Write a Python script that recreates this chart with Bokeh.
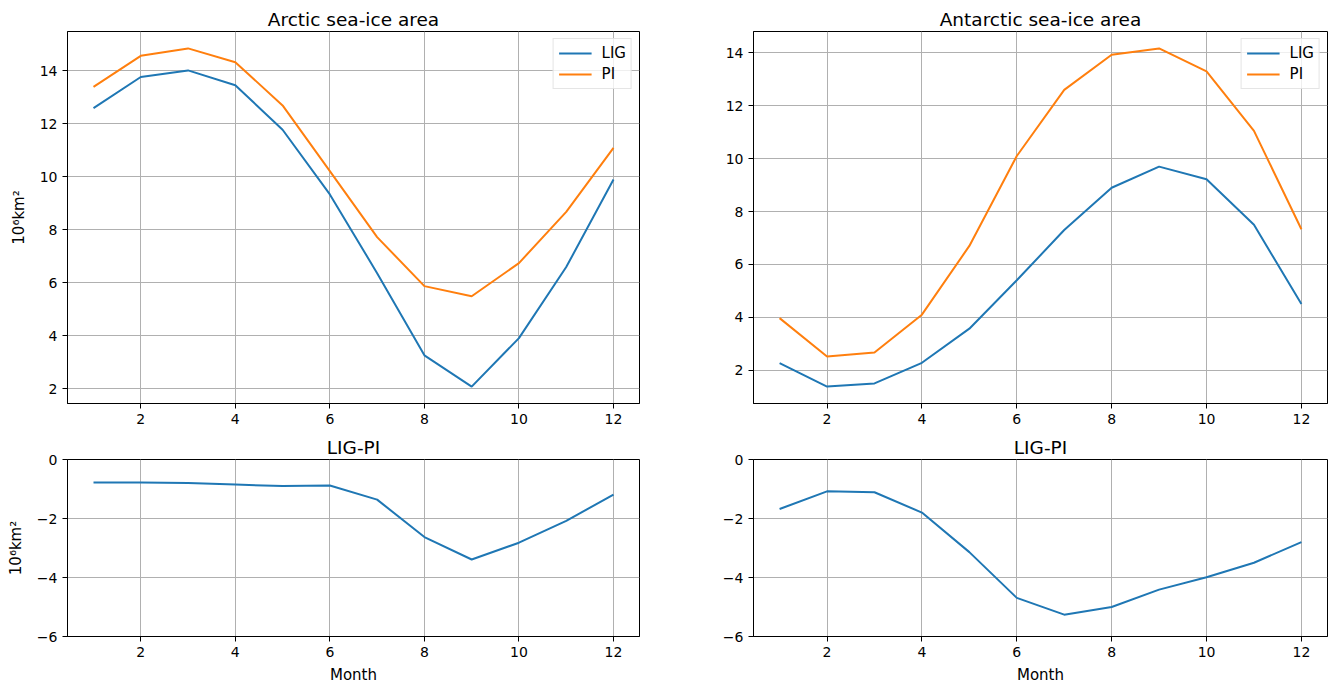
from bokeh.plotting import figure
from bokeh.layouts import column, row
from bokeh.models import FixedTicker, Range1d
from bokeh.embed import file_html
from bokeh.resources import INLINE

# ---- data ----
months = [1, 2, 3, 4, 5, 6, 7, 8, 9, 10, 11, 12]
arctic_lig = [12.6, 13.77, 14.02, 13.46, 11.78, 9.34, 6.37, 3.27, 2.09, 3.92, 6.6, 9.9]
arctic_pi = [13.4, 14.57, 14.85, 14.33, 12.7, 10.22, 7.73, 5.88, 5.5, 6.75, 8.68, 11.1]
arctic_diff = [-0.78, -0.78, -0.8, -0.85, -0.9, -0.88, -1.36, -2.63, -3.39, -2.82, -2.08, -1.19]
antarctic_lig = [2.27, 1.38, 1.5, 2.28, 3.57, 5.4, 7.3, 8.9, 9.7, 9.22, 7.5, 4.5]
antarctic_pi = [3.97, 2.52, 2.67, 4.1, 6.7, 10.1, 12.6, 13.93, 14.17, 13.3, 11.05, 7.33]
antarctic_diff = [-1.68, -1.08, -1.11, -1.8, -3.14, -4.69, -5.26, -5.0, -4.41, -3.99, -3.5, -2.8]

x_ticks = [2, 4, 6, 8, 10, 12]
top_y_ticks = [2, 4, 6, 8, 10, 12, 14]
diff_y_ticks = [-6, -4, -2, 0]
diff_y_labels = {-6: "\u22126", -4: "\u22124", -2: "\u22122", 0: "0"}
y_label = "10\u2076km\u00b2"
x_label = "Month"

BLUE = "#1f77b4"
ORANGE = "#ff7f0e"
FONT = "DejaVu Sans"


def auto_range(values, margin=0.05):
    lo, hi = min(values), max(values)
    pad = (hi - lo) * margin
    return Range1d(lo - pad, hi + pad)


def make_fig(title, y_range, fw, fh, left, right, top, bottom):
    p = figure(
        frame_width=fw, frame_height=fh,
        x_range=auto_range(months), y_range=y_range,
        output_backend="svg", toolbar_location=None,
        min_border_left=left, min_border_right=right,
        min_border_top=top, min_border_bottom=bottom,
        title=title,
    )
    p.title.align = "center"
    p.title.text_font = FONT
    p.title.text_font_size = "18.5px"
    p.title.text_font_style = "normal"
    p.title.text_color = "black"
    p.title.standoff = 4
    p.outline_line_color = "black"
    p.outline_line_width = 1
    p.outline_line_alpha = 1
    p.background_fill_color = "white"
    p.border_fill_color = "white"
    for ax in (p.xaxis, p.yaxis):
        ax.axis_line_color = "black"
        ax.major_tick_line_color = "black"
        ax.major_tick_out = 5
        ax.major_tick_in = 0
        ax.minor_tick_line_color = None
        ax.major_label_text_font = FONT
        ax.major_label_text_font_size = "14px"
        ax.major_label_text_color = "black"
        ax.major_label_standoff = 5
        ax.axis_label_text_font = FONT
        ax.axis_label_text_font_size = "15px"
        ax.axis_label_text_font_style = "normal"
        ax.axis_label_text_color = "black"
    p.xaxis.ticker = FixedTicker(ticks=x_ticks)
    p.grid.grid_line_color = "#b0b0b0"
    p.grid.grid_line_width = 1
    p.grid.grid_line_alpha = 1
    return p


def style_legend(p):
    lg = p.legend[0]
    lg.location = "top_right"
    lg.margin = 7
    lg.padding = 5
    lg.spacing = 3
    lg.glyph_width = 33
    lg.glyph_height = 18
    lg.label_height = 18
    lg.label_standoff = 10
    lg.label_text_font = FONT
    lg.label_text_font_size = "15px"
    lg.label_text_color = "black"
    lg.border_line_color = "#cccccc"
    lg.border_line_width = 1
    lg.background_fill_alpha = 0.8


# ---- top-left: Arctic ----
p1 = make_fig("Arctic sea-ice area", auto_range(arctic_lig + arctic_pi), 572, 372, 67, 41, 31, 27)
p1.line(months, arctic_lig, line_color=BLUE, line_width=2, legend_label="LIG")
p1.line(months, arctic_pi, line_color=ORANGE, line_width=2, legend_label="PI")
p1.yaxis.ticker = FixedTicker(ticks=top_y_ticks)
p1.yaxis.axis_label = y_label
p1.yaxis.axis_label_standoff = 9
style_legend(p1)

# ---- top-right: Antarctic ----
p2 = make_fig("Antarctic sea-ice area", auto_range(antarctic_lig + antarctic_pi), 574, 372, 73, 1, 31, 27)
p2.line(months, antarctic_lig, line_color=BLUE, line_width=2, legend_label="LIG")
p2.line(months, antarctic_pi, line_color=ORANGE, line_width=2, legend_label="PI")
p2.yaxis.ticker = FixedTicker(ticks=top_y_ticks)
style_legend(p2)

# ---- bottom-left: Arctic difference ----
p3 = make_fig("LIG-PI", Range1d(-6, 0), 572, 177, 67, 41, 29, 43)
p3.line(months, arctic_diff, line_color=BLUE, line_width=2)
p3.yaxis.ticker = FixedTicker(ticks=diff_y_ticks)
p3.yaxis.major_label_overrides = diff_y_labels
p3.yaxis.axis_label = y_label
p3.yaxis.axis_label_standoff = 9
p3.xaxis.axis_label = x_label
p3.xaxis.axis_label_standoff = 6

# ---- bottom-right: Antarctic difference ----
p4 = make_fig("LIG-PI", Range1d(-6, 0), 574, 177, 73, 1, 29, 43)
p4.line(months, antarctic_diff, line_color=BLUE, line_width=2)
p4.yaxis.ticker = FixedTicker(ticks=diff_y_ticks)
p4.yaxis.major_label_overrides = diff_y_labels
p4.xaxis.axis_label = x_label
p4.xaxis.axis_label_standoff = 6

layout = column(row(p1, p2, spacing=0), row(p3, p4, spacing=0), spacing=0)

open("out.html", "w").write(file_html(layout, INLINE))
